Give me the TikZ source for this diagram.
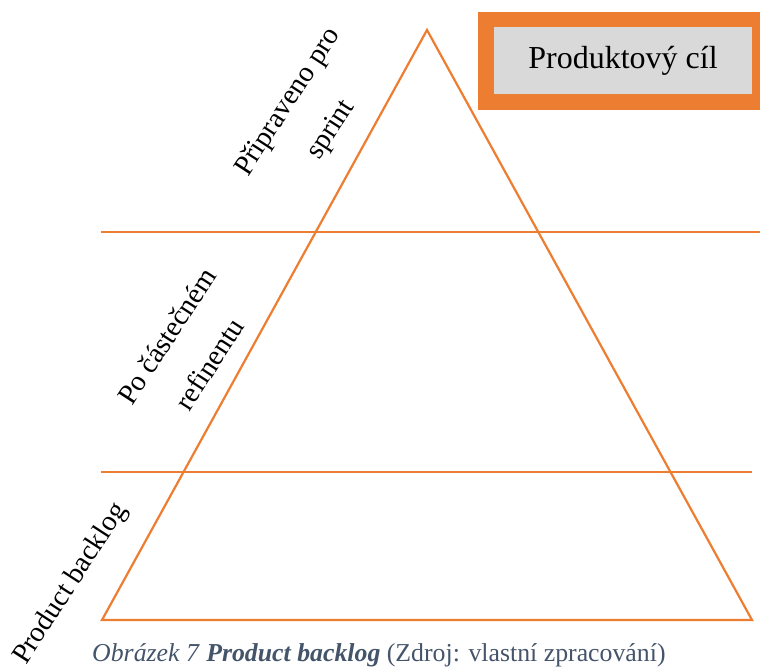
\documentclass[tikz,border=0pt]{standalone}
\usepackage{fontspec}
\setmainfont{Liberation Serif}
\usetikzlibrary{positioning}

\definecolor{pborange}{RGB}{237,125,49}
\definecolor{pbgray}{RGB}{217,217,217}
\definecolor{pbcaption}{RGB}{68,84,106}

\begin{document}
\begin{tikzpicture}[x=1pt,y=-1pt,
	edge/.style = {draw=pborange, line width=2.2pt, line join=miter},
	level/.style = {draw=pborange, line width=1.2pt},
	lbl/.style = {rotate=57, align=center,
		font=\fontsize{28.5}{51}\selectfont, inner sep=0pt}]
	\useasboundingbox (0,0) rectangle (760,668);
	% triangle
	\coordinate (top) at (427,30);
	\coordinate (bl) at (102,620);
	\coordinate (br) at (752,620);
	\draw[edge] (top) -- (bl) -- (br) -- cycle;
	% levels
	\coordinate (u1) at (101,232); \coordinate (u2) at (760,232);
	\coordinate (d1) at (101,472); \coordinate (d2) at (752,472);
	\draw[level] (u1) -- (u2);
	\draw[level] (d1) -- (d2);
	% goal box
	\node[draw=pborange, fill=pbgray, line width=15.5pt,
		minimum width=274pt, minimum height=82.5pt,
		font=\fontsize{32}{36}\selectfont] (goal) at (623,61) {Produktový cíl};
	% labels
	\node[lbl] (ready) at (310,116) {Připraveno pro\\sprint};
	\node[lbl] (refine) at (188,350) {Po částečném\\refinentu};
	\node[lbl] (backlog) at (71,584) {Product backlog};
	% caption
	\node[anchor=base west, inner sep=0pt, text=pbcaption,
		font=\fontsize{25.8}{30}\selectfont] (cap) at (92,661)
		{\textit{Obrázek 7} \textbf{\textit{Product backlog}} (Zdroj: vlastní zpracování)};
\end{tikzpicture}
\end{document}
